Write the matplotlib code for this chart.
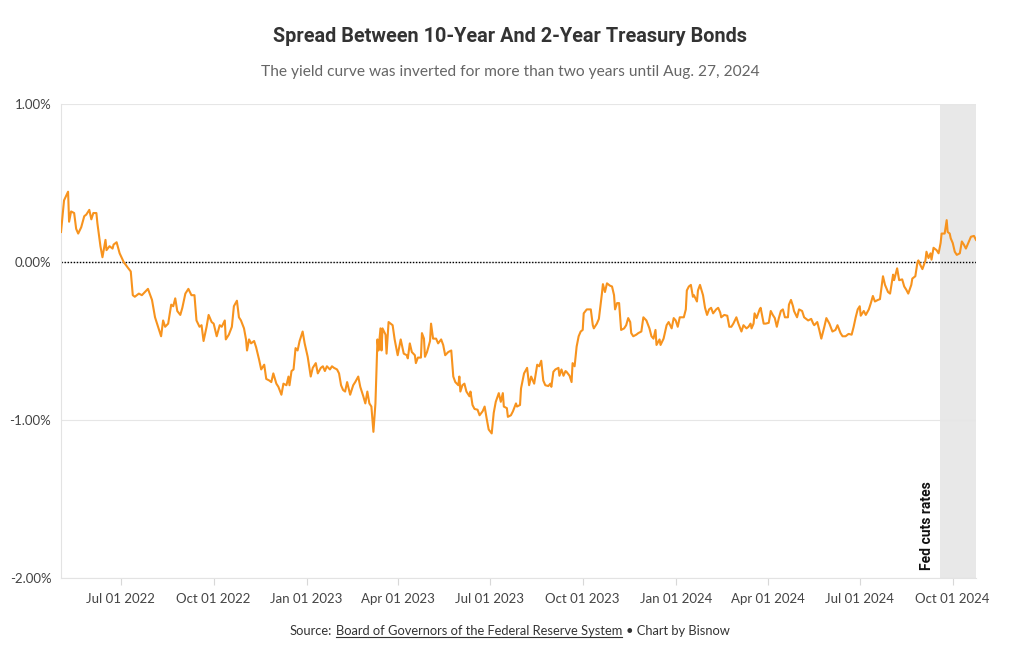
import pandas as pd
import matplotlib
matplotlib.use('Agg')
from matplotlib import pyplot as plt
import matplotlib.dates as mdates
import matplotlib.ticker as ticker
from matplotlib.lines import Line2D
from matplotlib.transforms import IdentityTransform

# data: days counted from 2022-07-01, spread in percent
base_date = '2022-07-01'
day_offset = [
    -59, -56, -52, -51, -49, -46, -44, -42, -39, -36, -34, -31, -29, -27, -24, -23, -20, -18, -15, -14,
    -11, -8, -7, -4, -1, 3, 7, 10, 12, 14, 18, 21, 24, 27, 31, 34, 37, 40, 42, 44,
    47, 50, 52, 54, 56, 59, 61, 64, 67, 70, 73, 75, 78, 80, 82, 85,
    87, 90, 92, 95, 98, 100, 103, 104, 107, 110, 112, 115, 117, 119, 122, 124, 125, 127, 129, 132,
    134, 137, 139, 142, 144, 147, 149, 151, 154, 156, 159, 161, 164, 166, 167, 169, 171, 173, 175, 177,
    180, 182, 185, 188, 190, 193, 195, 198, 200, 202, 204, 207, 209, 211, 214, 216, 218, 220, 222, 224,
    227, 230, 232, 235, 237, 240, 242,
    244, 246, 248, 250, 252, 254, 255, 257, 258, 259, 262, 263, 265, 269, 271, 274, 277, 280, 283, 284,
    286, 288, 291, 292, 294, 297, 298, 300, 301, 303, 306, 307, 309, 312, 314, 317, 319, 321, 324, 327,
    329, 331, 334, 335, 336, 338, 340, 342, 345, 346, 348, 350, 353, 355, 358, 360, 362, 364, 367, 369,
    371, 374, 376, 378, 379, 382, 383, 386, 388, 391, 392, 395,
    396, 399, 402, 404, 406, 409, 412, 414, 416, 418, 420, 423, 425, 426, 428, 430, 433, 434, 436, 438,
    440, 441, 444, 446, 447, 449, 451, 453, 455, 457, 458, 461, 465, 467, 468, 471, 473, 476, 477, 479,
    481, 484, 486, 488, 489, 491, 493, 495, 498, 500, 502, 504, 505, 507, 510, 512, 515, 517, 520, 523,
    525, 527, 529, 530, 533, 534, 537,
    540, 542, 545, 547, 549, 551, 553, 557, 559, 560, 562, 564, 566, 567, 570, 571, 573, 575, 576, 578,
    580, 582, 584, 586, 589, 591, 593, 594, 597, 600, 602, 604, 606, 609, 611, 614, 616, 619, 621, 623,
    624, 626, 627, 629, 632, 633, 636, 638, 641, 643, 645, 647, 649, 651, 653, 655, 657, 660, 661, 663,
    665, 666, 669, 671, 674, 676, 678, 680, 683, 685,
    686, 689, 691, 693, 696, 698, 701, 704, 707, 709, 712, 714, 717, 720, 723, 725, 727, 729, 731, 732,
    735, 737, 740, 742, 744, 746, 749, 751, 754, 756, 759, 761, 764, 765, 768, 770, 773, 775, 777, 779,
    782, 783, 786, 788, 789, 791, 793, 796, 797, 799, 801, 802, 804, 807, 809, 811, 812, 815, 817, 818,
    820, 821, 823, 825, 827, 830, 832, 834, 836, 839, 841, 844, 846,
]
spread = [
    0.19, 0.39, 0.445, 0.255, 0.32, 0.31, 0.21, 0.18, 0.22, 0.29, 0.30, 0.33, 0.27, 0.31, 0.31, 0.245, 0.10, 0.03, 0.14, 0.075,
    0.10, 0.085, 0.11, 0.125, 0.055, 0.00, -0.035, -0.06, -0.21, -0.22, -0.20, -0.21, -0.19, -0.17, -0.24, -0.35, -0.41, -0.47, -0.37, -0.41,
    -0.39, -0.27, -0.28, -0.23, -0.31, -0.335, -0.29, -0.20, -0.17, -0.21, -0.21, -0.37, -0.41, -0.40, -0.50, -0.41,
    -0.335, -0.38, -0.39, -0.47, -0.40, -0.41, -0.37, -0.49, -0.46, -0.41, -0.28, -0.245, -0.35, -0.37, -0.42, -0.49, -0.56, -0.49, -0.515, -0.50,
    -0.54, -0.62, -0.68, -0.65, -0.74, -0.75, -0.76, -0.705, -0.77, -0.79, -0.84, -0.77, -0.78, -0.725, -0.78, -0.69, -0.68, -0.545, -0.56, -0.50,
    -0.44, -0.515, -0.60, -0.725, -0.67, -0.64, -0.705, -0.67, -0.66, -0.69, -0.66, -0.68, -0.66, -0.67, -0.68, -0.705, -0.78, -0.81, -0.82, -0.76,
    -0.84, -0.78, -0.76, -0.725, -0.79, -0.85, -0.895,
    -0.82, -0.895, -0.915, -1.075, -0.895, -0.49, -0.56, -0.42, -0.56, -0.42, -0.46, -0.58, -0.38, -0.40, -0.49, -0.59, -0.49, -0.58, -0.59, -0.61,
    -0.515, -0.57, -0.59, -0.64, -0.605, -0.605, -0.45, -0.485, -0.60, -0.57, -0.50, -0.39, -0.485, -0.485, -0.515, -0.49, -0.525, -0.59, -0.57, -0.56,
    -0.725, -0.76, -0.78, -0.725, -0.82, -0.78, -0.77, -0.82, -0.85, -0.82, -0.905, -0.93, -0.935, -0.97, -0.945, -0.915, -0.99, -1.06, -1.085, -0.955,
    -0.885, -0.83, -0.885, -0.83, -0.915, -0.925, -0.98, -0.97, -0.945, -0.895, -0.915, -0.905,
    -0.80, -0.705, -0.67, -0.78, -0.725, -0.77, -0.65, -0.66, -0.625, -0.75, -0.78, -0.785, -0.77, -0.79, -0.695, -0.68, -0.67, -0.72, -0.68, -0.72,
    -0.69, -0.695, -0.72, -0.76, -0.64, -0.66, -0.535, -0.47, -0.44, -0.43, -0.325, -0.30, -0.30, -0.40, -0.42, -0.39, -0.36, -0.20, -0.14, -0.19,
    -0.135, -0.15, -0.155, -0.21, -0.30, -0.26, -0.26, -0.43, -0.42, -0.40, -0.355, -0.38, -0.45, -0.47, -0.46, -0.45, -0.44, -0.35, -0.37, -0.42,
    -0.47, -0.485, -0.43, -0.525, -0.49, -0.525, -0.485,
    -0.40, -0.38, -0.42, -0.355, -0.37, -0.41, -0.35, -0.35, -0.30, -0.18, -0.155, -0.145, -0.22, -0.21, -0.25, -0.18, -0.145, -0.19, -0.21, -0.29,
    -0.335, -0.30, -0.29, -0.325, -0.30, -0.29, -0.32, -0.35, -0.335, -0.34, -0.41, -0.41, -0.39, -0.35, -0.39, -0.44, -0.40, -0.42, -0.41, -0.39,
    -0.42, -0.39, -0.325, -0.355, -0.30, -0.29, -0.39, -0.39, -0.385, -0.31, -0.335, -0.355, -0.41, -0.355, -0.31, -0.30, -0.35, -0.35, -0.27, -0.24,
    -0.28, -0.31, -0.35, -0.30, -0.31, -0.35, -0.36, -0.37, -0.36, -0.39,
    -0.40, -0.38, -0.43, -0.485, -0.41, -0.355, -0.39, -0.44, -0.43, -0.40, -0.45, -0.47, -0.47, -0.455, -0.46, -0.41, -0.35, -0.30, -0.28, -0.34,
    -0.31, -0.335, -0.30, -0.26, -0.215, -0.25, -0.24, -0.235, -0.09, -0.145, -0.19, -0.20, -0.08, -0.115, -0.04, -0.115, -0.11, -0.155, -0.175, -0.20,
    -0.145, -0.105, -0.09, -0.005, 0.01, -0.02, -0.045, 0.01, 0.065, 0.025, 0.055, 0.015, 0.09, 0.075, 0.055, 0.12, 0.18, 0.18, 0.265, 0.19,
    0.18, 0.15, 0.12, 0.065, 0.045, 0.055, 0.13, 0.11, 0.085, 0.13, 0.16, 0.165, 0.14,
]
fed_cut_date = '2024-09-18'
fed_cut_label = 'Fed cuts rates'
x_tick_dates = ['2022-07-01', '2022-10-01', '2023-01-01', '2023-04-01', '2023-07-01',
                '2023-10-01', '2024-01-01', '2024-04-01', '2024-07-01', '2024-10-01']
y_ticks = [-2, -1, 0, 1]

title = 'Spread Between 10-Year And 2-Year Treasury Bonds'
subtitle = 'The yield curve was inverted for more than two years until Aug. 27, 2024'
source_parts = ['Source:', 'Board of Governors of the Federal Reserve System', '\u2022 Chart by Bisnow']

line_color = '#f7931e'
text_font = ['Lato', 'DejaVu Sans']
title_font = ['Roboto', 'DejaVu Sans']

dates = pd.Timestamp(base_date) + pd.to_timedelta(day_offset, unit='D')

W, H = 1020, 650
fig = plt.figure(figsize=(W / 100, H / 100), dpi=100)
ax = fig.add_axes([61 / W, 72 / H, 915 / W, 474 / H])

ax.axvspan(pd.Timestamp(fed_cut_date), dates[-1], color='#e8e8e8', lw=0, zorder=0)
ax.plot(dates, spread, color=line_color, lw=1.5, zorder=3)
ax.axhline(0, color='black', lw=1.0, ls=(0, (1, 1.2)), zorder=2)

ax.set_xlim(dates[0], dates[-1])
ax.set_ylim(-2, 1)
ax.set_yticks(y_ticks)
ax.yaxis.set_major_formatter(ticker.FuncFormatter(lambda v, p: '%.2f%%' % v))
ax.set_xticks(pd.to_datetime(x_tick_dates))
ax.xaxis.set_major_formatter(mdates.DateFormatter('%b %d %Y'))
ax.yaxis.grid(True, color='#e6e6e6', lw=0.8, zorder=1)

for side in ['top', 'right']:
    ax.spines[side].set_visible(False)
for side in ['left', 'bottom']:
    ax.spines[side].set_color('#e3e3e3')
    ax.spines[side].set_linewidth(0.8)

ax.tick_params(axis='y', length=0, pad=7, labelsize=9.5, labelcolor='#444444')
ax.tick_params(axis='x', length=5, width=0.8, color='#d8d8d8', pad=6, labelsize=9.5, labelcolor='#444444')
for lab in ax.get_xticklabels() + ax.get_yticklabels():
    lab.set_family(text_font)

ax.annotate(fed_cut_label, xy=(pd.Timestamp(fed_cut_date), -2), xytext=(-4, 6),
            textcoords='offset points', rotation=90, ha='right', va='bottom',
            fontsize=10, fontweight='bold', color='#111111', family=title_font)

fig.text(0.5, 1 - 37 / H, title, ha='center', va='center', fontsize=14.3,
         fontweight='bold', color='#333333', family=title_font)
fig.text(0.5, 1 - 72 / H, subtitle, ha='center', va='center', fontsize=11.2,
         color='#666666', family=text_font)

# footer: three pieces so the link part can be underlined
renderer = fig.canvas.get_renderer()
parts = [fig.text(0, 1 - 631 / H, s, ha='left', va='center', fontsize=9.3,
                  color='#333333', family=text_font) for s in source_parts]
widths = [t.get_window_extent(renderer).width for t in parts]
gap = 4
x0 = W / 2 - (sum(widths) + gap * (len(parts) - 1)) / 2
for i, (t, w) in enumerate(zip(parts, widths)):
    t.set_x(x0 / W)
    if i == 1:
        bb = t.get_window_extent(renderer)
        fig.add_artist(Line2D([x0, x0 + w], [bb.y0, bb.y0], transform=IdentityTransform(),
                              color='#333333', lw=0.8))
    x0 += w + gap

fig.savefig('out.png', dpi=100)
